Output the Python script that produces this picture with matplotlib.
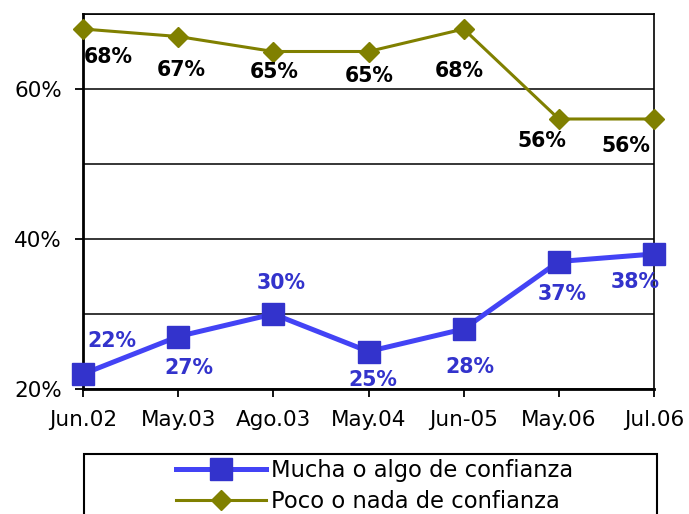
import matplotlib.pyplot as plt
from matplotlib.ticker import MultipleLocator, FuncFormatter
from matplotlib.patches import Rectangle

plt.rcParams['font.family'] = ['DejaVu Sans']

periods = ["Jun.02", "May.03", "Ago.03", "May.04", "Jun-05", "May.06", "Jul.06"]
mucha = [22, 27, 30, 25, 28, 37, 38]
poco = [68, 67, 65, 65, 68, 56, 56]
mucha_name = "Mucha o algo de confianza"
poco_name = "Poco o nada de confianza"

# label offsets in pixels (dx right, dy down) as placed in the source chart
mucha_off = [(29, -33), (11, 31), (8, -31), (4, 29), (6, 38), (3, 32), (-19, 28)]
poco_off = [(25, 28), (3, 34), (1, 21), (1, 25), (-4, 42), (-17, 22), (-28, 27)]

BLUE_LINE = "#4343F5"
BLUE = "#3333CC"
OLIVE = "#808000"


def graph():
    fig = plt.figure(figsize=(6.89, 5.14), dpi=100)
    ax = fig.add_axes([83 / 689, 1 - 389 / 514, (654 - 83) / 689, (389 - 14) / 514])
    x = list(range(len(periods)))

    ax.plot(x, mucha, color=BLUE_LINE, lw=3.6, marker="s", ms=16.5,
            mfc=BLUE, mec=BLUE, clip_on=False, zorder=4, label=mucha_name)
    ax.plot(x, poco, color=OLIVE, lw=2.2, marker="D", ms=10.5,
            mfc=OLIVE, mec=OLIVE, clip_on=False, zorder=4, label=poco_name)

    px = 72 / 100
    for xi, v, (dx, dy) in zip(x, mucha, mucha_off):
        ax.annotate(f"{v}%", (xi, v), xytext=(dx * px, -dy * px),
                    textcoords="offset points", ha="center", va="center",
                    fontsize=14.8, fontweight="bold", color=BLUE, zorder=5)
    for xi, v, (dx, dy) in zip(x, poco, poco_off):
        ax.annotate(f"{v}%", (xi, v), xytext=(dx * px, -dy * px),
                    textcoords="offset points", ha="center", va="center",
                    fontsize=14.8, fontweight="bold", color="black", zorder=5)

    ax.set_xlim(0, len(periods) - 1)
    ax.set_ylim(20, 70)
    ax.set_xticks(x)
    ax.set_xticklabels(periods, fontsize=15.5)
    ax.yaxis.set_major_locator(MultipleLocator(20))
    ax.yaxis.set_minor_locator(MultipleLocator(10))
    ax.yaxis.set_major_formatter(FuncFormatter(lambda v, p: f"{v:.0f}%"))
    ax.tick_params(axis="y", which="major", labelsize=15.5, length=6,
                   width=1.3, direction="out", pad=9)
    ax.tick_params(axis="y", which="minor", length=0)
    ax.tick_params(axis="x", length=6, width=1.3, direction="out", pad=9)
    ax.grid(True, axis="y", which="both", color="black", lw=1.1)
    ax.set_axisbelow(True)
    for side in ["left", "bottom"]:
        ax.spines[side].set_linewidth(2)
    for side in ["top", "right"]:
        ax.spines[side].set_linewidth(1.2)

    # legend box running off the bottom edge
    fig.patches.append(Rectangle((84 / 689, -0.02), (657 - 84) / 689,
                                 1 - 454 / 514 + 0.02, transform=fig.transFigure,
                                 fill=False, ec="black", lw=1.5))
    fig.legend(loc="center", bbox_to_anchor=(375 / 689, 1 - 486 / 514),
               frameon=False, fontsize=16.3, handlelength=3.95,
               handletextpad=0.25, labelspacing=0.32, borderpad=0)

    fig.savefig("out.png", dpi=100)


if __name__ == "__main__":
    graph()
